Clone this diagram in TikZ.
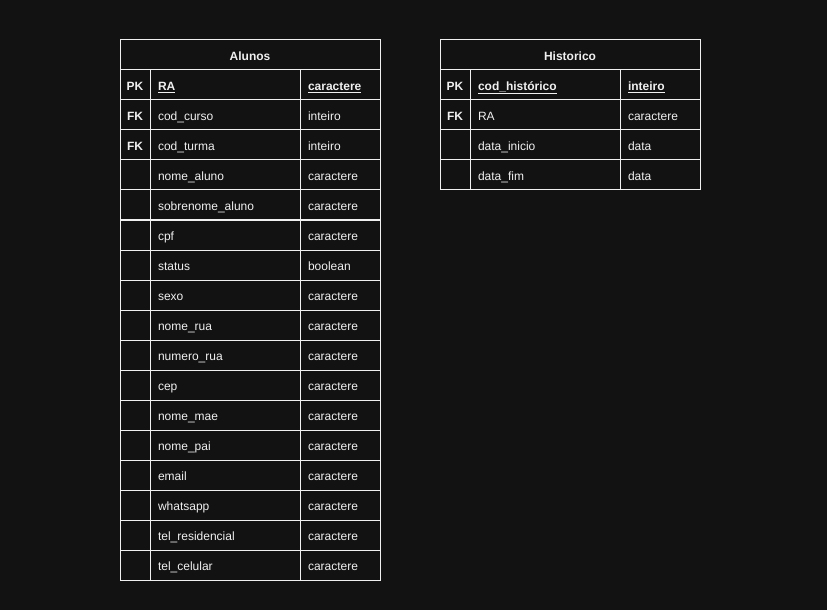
\documentclass[tikz,border=0pt]{standalone}
\usepackage{fontspec}
\setmainfont{Liberation Sans}
\definecolor{bg}{HTML}{121212}
\definecolor{fg}{HTML}{F0F0F0}
\begin{document}
\begin{tikzpicture}[x=1bp,y=-1bp,
  every node/.style={text=fg, font=\fontsize{12bp}{14bp}\selectfont, inner sep=0pt, outer sep=0pt, text height=11.5bp, text depth=0pt},
  cell/.style={draw=fg, line width=1bp, anchor=north west, minimum height=30bp},
  title/.style={cell, minimum width=260bp, font=\fontsize{12bp}{14bp}\selectfont\bfseries},
  keycell/.style={cell, minimum width=30bp, font=\fontsize{12bp}{14bp}\selectfont\bfseries},
  namecell/.style={cell, text width=134bp, inner xsep=8bp, align=left},
  typecell/.style={cell, text width=64bp, inner xsep=8bp, align=left},
  pkcell/.style={font=\fontsize{12bp}{14bp}\selectfont\bfseries}
]
\fill[bg] (0,0) rectangle (827,610);
\useasboundingbox (0,0) rectangle (827,610);

% ---- Alunos ----
\node[title] (al-title) at (120,40) {Alunos};
\node[keycell] (al-k0) at (120,70) {PK};
\node[namecell,pkcell] (al-n0) at (150,70) {\underline{RA}};
\node[typecell,pkcell] (al-t0) at (300,70) {\underline{caractere}};
\foreach [count=\i] \k/\n/\t in {
  FK/cod\_curso/inteiro,
  FK/cod\_turma/inteiro,
  {}/nome\_aluno/caractere,
  {}/sobrenome\_aluno/caractere,
  {}/cpf/caractere,
  {}/status/boolean,
  {}/sexo/caractere,
  {}/nome\_rua/caractere,
  {}/numero\_rua/caractere,
  {}/cep/caractere,
  {}/nome\_mae/caractere,
  {}/nome\_pai/caractere,
  {}/email/caractere,
  {}/whatsapp/caractere,
  {}/tel\_residencial/caractere,
  {}/tel\_celular/caractere}{
  \node[keycell] (al-k\i) at (120,70+30*\i) {\k};
  \node[namecell] (al-n\i) at (150,70+30*\i) {\n};
  \node[typecell] (al-t\i) at (300,70+30*\i) {\t};
}

% ---- Historico ----
\node[title] (hi-title) at (440,40) {Historico};
\node[keycell] (hi-k0) at (440,70) {PK};
\node[namecell,pkcell] (hi-n0) at (470,70) {\underline{cod\_histórico}};
\node[typecell,pkcell] (hi-t0) at (620,70) {\underline{inteiro}};
\foreach [count=\i] \k/\n/\t in {
  FK/RA/caractere,
  {}/data\_inicio/data,
  {}/data\_fim/data}{
  \node[keycell] (hi-k\i) at (440,70+30*\i) {\k};
  \node[namecell] (hi-n\i) at (470,70+30*\i) {\n};
  \node[typecell] (hi-t\i) at (620,70+30*\i) {\t};
}
\end{tikzpicture}
\end{document}
